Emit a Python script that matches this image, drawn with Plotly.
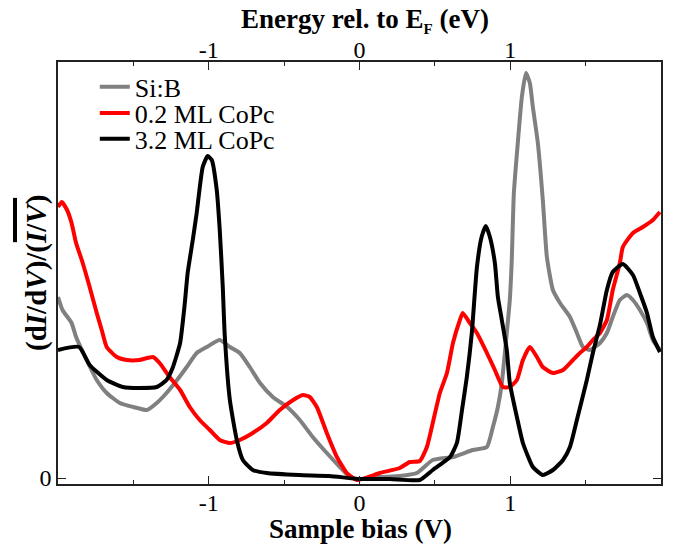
import plotly.graph_objects as go

# ---- data (sample bias in V, normalized conductance in arb. units) ----
sib_x = [-2.00, -1.97, -1.91, -1.88, -1.81, -1.743, -1.677, -1.59, -1.50, -1.41, -1.345, -1.28,
         -1.21, -1.146, -1.08, -1.013, -0.927, -0.86, -0.794, -0.728, -0.66, -0.575, -0.48, -0.396,
         -0.31, -0.217, -0.13, -0.064, 0.0, 0.135, 0.267, 0.38, 0.486, 0.62, 0.752, 0.845, 0.885,
         0.918, 0.944, 0.977, 0.997, 1.01, 1.024, 1.05, 1.077, 1.104, 1.13, 1.15, 1.183, 1.216,
         1.243, 1.283, 1.33, 1.396, 1.442, 1.482, 1.528, 1.595, 1.641, 1.68, 1.727, 1.774, 1.814,
         1.86, 1.907, 1.946, 1.993]
sib_y = [1.81, 1.68, 1.55, 1.41, 1.18, 0.98, 0.85, 0.75, 0.71, 0.68, 0.75, 0.85,
         0.98, 1.11, 1.25, 1.31, 1.38, 1.31, 1.25, 1.11, 0.95, 0.81, 0.71, 0.58,
         0.41, 0.25, 0.11, 0.01, -0.01, 0.01, 0.02, 0.05, 0.18, 0.21, 0.28, 0.31, 0.51,
         0.71, 0.95, 1.45, 1.78, 2.18, 2.85, 3.35, 3.81, 4.05, 3.95, 3.71, 3.35, 2.78,
         2.21, 1.88, 1.75, 1.61, 1.45, 1.31, 1.28, 1.35, 1.45, 1.61, 1.78, 1.83, 1.78,
         1.68, 1.55, 1.38, 1.28]

low_x = [-2.00, -1.975, -1.94, -1.91, -1.88, -1.836, -1.79, -1.743, -1.71, -1.677, -1.61, -1.544,
         -1.46, -1.37, -1.326, -1.26, -1.19, -1.126, -1.06, -0.993, -0.927, -0.86, -0.794, -0.708,
         -0.615, -0.529, -0.44, -0.376, -0.33, -0.283, -0.217, -0.15, -0.084, -0.018, 0.135, 0.267,
         0.334, 0.40, 0.447, 0.486, 0.533, 0.58, 0.62, 0.666, 0.685, 0.732, 0.779, 0.845, 0.898,
         0.951, 0.997, 1.044, 1.084, 1.13, 1.177, 1.216, 1.283, 1.35, 1.416, 1.462, 1.508, 1.548,
         1.595, 1.641, 1.68, 1.727, 1.747, 1.814, 1.88, 1.946, 1.993]
low_y = [2.71, 2.76, 2.68, 2.55, 2.35, 2.15, 1.91, 1.65, 1.48, 1.31, 1.21, 1.18,
         1.18, 1.21, 1.15, 1.01, 0.88, 0.71, 0.58, 0.48, 0.38, 0.35, 0.38, 0.45,
         0.55, 0.68, 0.78, 0.83, 0.81, 0.71, 0.45, 0.21, 0.05, -0.02, 0.05, 0.10,
         0.16, 0.17, 0.31, 0.55, 0.85, 1.05, 1.35, 1.58, 1.65, 1.55, 1.45, 1.25, 1.08,
         0.91, 0.91, 0.98, 1.18, 1.31, 1.21, 1.11, 1.05, 1.08, 1.18, 1.25, 1.31, 1.38,
         1.45, 1.58, 1.88, 2.15, 2.31, 2.45, 2.51, 2.58, 2.66]

high_x = [-2.00, -1.86, -1.79, -1.677, -1.57, -1.46, -1.345, -1.28, -1.24, -1.19, -1.16, -1.14,
          -1.106, -1.08, -1.04, -1.007, -0.98, -0.947, -0.927, -0.907, -0.894, -0.86, -0.814,
          -0.774, -0.708, -0.615, -0.40, -0.20, 0.0, 0.20, 0.40, 0.486, 0.60, 0.646, 0.68, 0.712,
          0.745, 0.779, 0.81, 0.838, 0.865, 0.898, 0.918, 0.944, 0.977, 0.997, 1.044, 1.084, 1.15,
          1.216, 1.283, 1.35, 1.396, 1.442, 1.508, 1.548, 1.595, 1.641, 1.68, 1.747, 1.814, 1.86,
          1.907, 1.946, 1.993]
high_y = [1.28, 1.31, 1.13, 0.98, 0.91, 0.90, 0.91, 0.98, 1.10, 1.35, 1.73, 2.05,
          2.38, 2.65, 3.11, 3.22, 3.18, 2.88, 2.48, 1.91, 1.43, 0.78, 0.38,
          0.18, 0.08, 0.05, 0.03, 0.02, -0.01, -0.01, -0.02, 0.08, 0.21, 0.35, 0.68, 1.01,
          1.45, 2.11, 2.41, 2.52, 2.41, 2.15, 1.81, 1.58, 1.28, 0.95, 0.61, 0.35, 0.11,
          0.03, 0.08, 0.18, 0.31, 0.58, 0.98, 1.25, 1.53, 1.88, 2.06, 2.14, 2.03, 1.85,
          1.65, 1.41, 1.26]

names = ["Si:B", "0.2 ML CoPc", "3.2 ML CoPc"]
colors = ["#808080", "#ff0000", "#000000"]
xs = [sib_x, low_x, high_x]
ys = [sib_y, low_y, high_y]
legend_ids = ["legend", "legend2", "legend3"]
xaxis_ids = ["x", "x", "x2"]   # last series is drawn against the (identical) top energy axis

x_tickvals = [-1, 0, 1]
x_ticktext = ["-1", "0", "1"]

FONT = "Liberation Serif"

fig = go.Figure()
for name, c, x, y, lg, xa in zip(names, colors, xs, ys, legend_ids, xaxis_ids):
    fig.add_trace(go.Scatter(x=x, y=y, mode="lines", name=name, legend=lg, xaxis=xa, yaxis="y",
                             line=dict(color=c, width=4, shape="spline", smoothing=0.5)))

axis_common = dict(showline=True, linecolor="#222", linewidth=1.5, ticks="inside",
                   tickcolor="#222", showgrid=False, zeroline=False, automargin=False,
                   tickfont=dict(family=FONT, size=24, color="black"))
minor_ticks = dict(tickvals=[-1.5, -0.5, 0.5, 1.5], ticks="inside", ticklen=4,
                   tickcolor="#222", showgrid=False)

fig.update_layout(
    width=673, height=545,
    margin=dict(l=58, r=12, t=62, b=61),
    paper_bgcolor="white", plot_bgcolor="white",
    font=dict(family=FONT, color="black"),
    xaxis=dict(range=[-2, 2], tickvals=x_tickvals, ticktext=x_ticktext, ticklen=8,
               ticklabelstandoff=-4, minor=minor_ticks, **axis_common),
    xaxis2=dict(range=[-2, 2], overlaying="x", side="top", anchor="y", tickvals=x_tickvals,
                ticktext=x_ticktext, ticklen=8, ticklabelstandoff=-7, minor=minor_ticks,
                **axis_common),
    yaxis=dict(range=[-0.06, 4.16], tickvals=[0], ticktext=["0"], ticklen=8, mirror="ticks",
               **axis_common),
    showlegend=True,
)

for lg, ypos in zip(legend_ids, [0.941, 0.879, 0.818]):
    fig.update_layout({lg: dict(x=0.061, y=ypos, xanchor="left", yanchor="middle",
                                bgcolor="rgba(0,0,0,0)", borderwidth=0,
                                font=dict(family=FONT, size=26, color="black"))})

# axis titles as annotations
fig.add_annotation(text="<b>Sample bias (V)</b>", xref="paper", yref="paper",
                   x=0.502, y=-0.106, xanchor="center", yanchor="middle", showarrow=False,
                   font=dict(family=FONT, size=27, color="black"))
fig.add_annotation(text="<b>Energy rel. to E<sub><span style='font-size:15px'>F</span></sub> (eV)</b>",
                   xref="paper", yref="paper", x=0.509, y=1.098, xanchor="center", yanchor="middle",
                   showarrow=False, font=dict(family=FONT, size=27, color="black"))
# y-axis title as rotated annotation plus overline bar over I/V
fig.add_annotation(text="<b>(d<i>I</i>/d<i>V</i>)/(<i>I</i>/<i>V</i>)</b>", xref="paper", yref="paper",
                   x=-0.0365, y=0.5, xanchor="center", yanchor="middle", textangle=-90,
                   showarrow=False, font=dict(family=FONT, size=29, color="black"))
fig.add_shape(type="line", xref="paper", yref="paper", x0=-0.0713, x1=-0.0713, y0=0.573, y1=0.678,
              line=dict(color="black", width=4))

fig.write_html("out.html")
